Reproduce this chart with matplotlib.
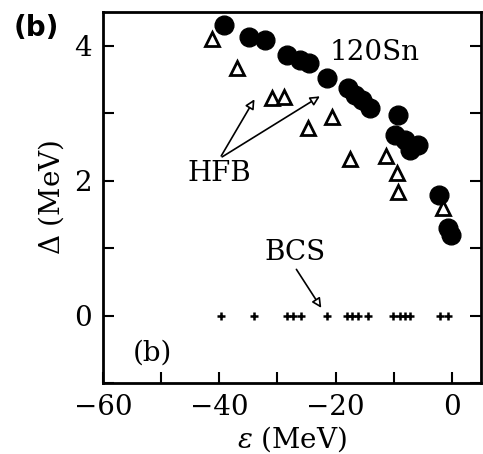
import numpy as np
import matplotlib.pyplot as plt
from matplotlib.ticker import MultipleLocator

# experimental gap (filled circles)
eps_exp = [-39.1, -34.8, -32.2, -28.3, -26.2, -24.5, -21.4, -17.9, -16.7, -15.5,
           -14.1, -9.3, -9.8, -8.1, -7.2, -5.9, -2.2, -0.6, -0.1]
gap_exp = [4.31, 4.12, 4.08, 3.86, 3.79, 3.74, 3.52, 3.37, 3.27, 3.19,
           3.07, 2.97, 2.67, 2.60, 2.45, 2.53, 1.78, 1.30, 1.20]

# HFB (open triangles)
eps_hfb = [-41.2, -36.9, -31.0, -28.8, -24.8, -20.7, -17.6, -11.4, -9.5, -9.3, -1.5]
gap_hfb = [4.09, 3.67, 3.22, 3.24, 2.78, 2.94, 2.32, 2.36, 2.11, 1.83, 1.59]

# BCS (zero gap)
eps_bcs = [-39.7, -34.0, -28.3, -27.4, -25.9, -21.4, -18.1, -17.1, -16.2, -14.5,
           -10.2, -9.0, -8.1, -7.2, -2.1, -0.7]
gap_bcs = [0.0] * len(eps_bcs)

plt.rcParams['font.family'] = 'DejaVu Serif'
plt.rcParams['mathtext.fontset'] = 'dejavuserif'

fig = plt.figure(figsize=(4.83, 4.54), dpi=100)
ax = fig.add_axes([0.213, 0.156, 0.783, 0.818])

ax.plot(eps_exp, gap_exp, 'o', color='black', ms=13.5, zorder=3)
ax.plot(eps_hfb, gap_hfb, '^', mfc='white', mec='black', mew=2, ms=10, zorder=4)
ax.plot(eps_bcs, gap_bcs, '+', color='black', ms=6, mew=1.8, zorder=3)

ax.set_xlim(-60, 5)
ax.set_ylim(-1, 4.5)
ax.xaxis.set_major_locator(MultipleLocator(20))
ax.xaxis.set_minor_locator(MultipleLocator(10))
ax.yaxis.set_major_locator(MultipleLocator(2))
ax.yaxis.set_minor_locator(MultipleLocator(1))
ax.tick_params(which='both', direction='in', top=False, right=True,
               length=8, width=1.5, labelsize=20, pad=8)
for s in ax.spines.values():
    s.set_linewidth(2)
ax.set_xticklabels([], minor=True)

ax.set_xlabel(r'$\varepsilon$ (MeV)', fontsize=20, labelpad=2)
ax.set_ylabel(r'$\Delta$ (MeV)', fontsize=20, labelpad=6)

ax.text(-21, 3.9, '120Sn', fontsize=20, va='center', ha='left')
ax.text(-45.5, 2.1, 'HFB', fontsize=20, va='center', ha='left')
ax.text(-27, 0.93, 'BCS', fontsize=20, va='center', ha='center')
ax.text(-51.5, -0.56, '(b)', fontsize=20, va='center', ha='center')

arrow = dict(arrowstyle='-|>', fc='white', ec='black', lw=1.2, mutation_scale=14)
ax.annotate('', xy=(-33.7, 3.24), xytext=(-39.9, 2.33), arrowprops=arrow)
ax.annotate('', xy=(-22.3, 3.27), xytext=(-39.9, 2.33), arrowprops=arrow)
ax.annotate('', xy=(-22.2, 0.08), xytext=(-27, 0.72), arrowprops=arrow)

fig.text(0.075, 0.938, '(b)', fontsize=20, fontweight='bold',
         family='DejaVu Sans', ha='center', va='center')

fig.savefig('out.png', dpi=100)
